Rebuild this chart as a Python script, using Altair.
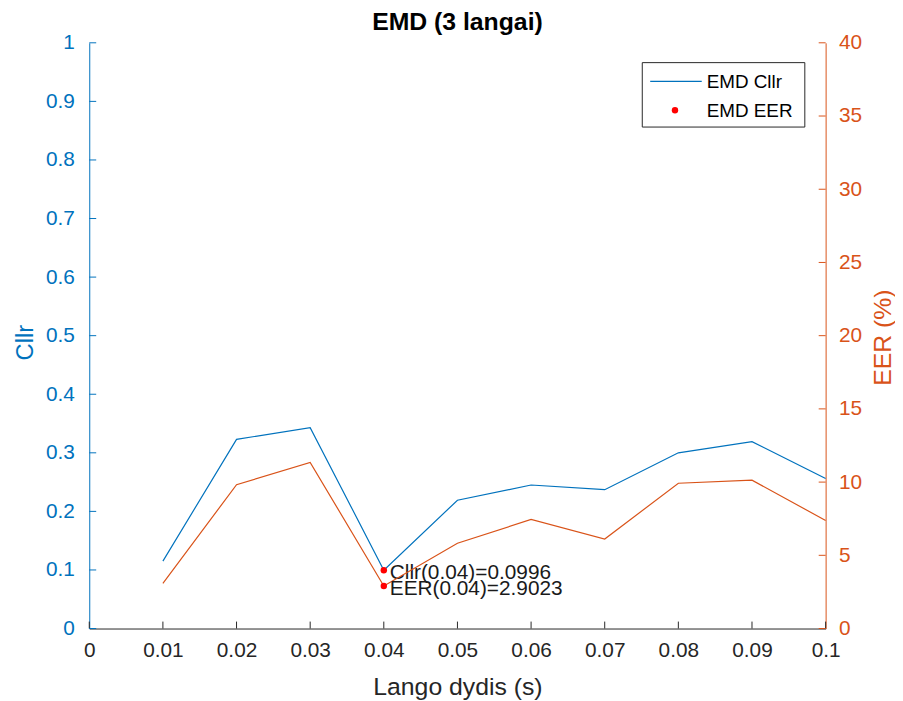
import altair as alt
import pandas as pd

# ---------------- data ----------------
window_sizes = [0.01, 0.02, 0.03, 0.04, 0.05, 0.06, 0.07, 0.08, 0.09, 0.10]
cllr_values = [0.115, 0.323, 0.343, 0.0996, 0.219, 0.245, 0.237, 0.300, 0.319, 0.256]
eer_values = [3.09, 9.82, 11.35, 2.9023, 5.82, 7.45, 6.11, 9.92, 10.13, 7.38]

x_tick_values = [0, 0.01, 0.02, 0.03, 0.04, 0.05, 0.06, 0.07, 0.08, 0.09, 0.1]
cllr_tick_values = [0, 0.1, 0.2, 0.3, 0.4, 0.5, 0.6, 0.7, 0.8, 0.9, 1]
eer_tick_values = [0, 5, 10, 15, 20, 25, 30, 35, 40]

best_x = 0.04
best_cllr = 0.0996
best_eer = 2.9023

legend_labels = ["EMD Cllr", "EMD EER"]
chart_title = "EMD (3 langai)"
x_title = "Lango dydis (s)"
yl_title = "Cllr"
yr_title = "EER (%)"

# ---------------- style ----------------
W, H = 743, 591
BLUE = "#0072BD"
ORANGE = "#D95319"
AX = "#262626"
FONT = "Liberation Sans"
TICK = 7
TITLE_SIZE = 25

df = pd.DataFrame({"x": window_sizes, "cllr": cllr_values, "eer": eer_values})
x_ticks_df = pd.DataFrame({"x": x_tick_values})
yl_ticks_df = pd.DataFrame({"cllr": cllr_tick_values})
yr_ticks_df = pd.DataFrame({"eer": eer_tick_values})
best_cllr_df = pd.DataFrame({"x": [best_x], "cllr": [best_cllr],
                             "label": [f"Cllr({best_x:g})={best_cllr:g}"]})
best_eer_df = pd.DataFrame({"x": [best_x], "eer": [best_eer],
                            "label": [f"EER({best_x:g})={best_eer:g}"]})

x_scale = alt.Scale(domain=[0, 0.1], nice=False, zero=False)
yl_scale = alt.Scale(domain=[0, 1], nice=False)
yr_scale = alt.Scale(domain=[0, 40], nice=False)

x_axis = alt.Axis(values=x_tick_values, format="~g", ticks=False, tickSize=0, grid=False,
                  domainColor=AX, domainWidth=1, labelColor=AX, labelFont=FONT, labelFontSize=21,
                  labelPadding=28, labelBaseline="alphabetic", labelFlush=False, labelOverlap=False,
                  title=x_title, titleFont=FONT, titleFontSize=TITLE_SIZE, titleFontWeight="normal",
                  titleColor=AX, titleY=67, titleBaseline="alphabetic", titleX=W / 2,
                  titleAlign="center")

yl_axis = alt.Axis(orient="left", values=cllr_tick_values, format="~g", ticks=False, tickSize=0,
                   grid=False, domainColor=BLUE, domainWidth=1, labelColor=BLUE, labelFont=FONT,
                   labelFontSize=21, labelPadding=15, labelOverlap=False, labelFlush=False,
                   title=yl_title, titleColor=BLUE, titleFont=FONT, titleFontSize=24,
                   titleFontWeight="normal", titleAngle=270, titleX=-57, titleY=302,
                   titleAlign="center", titleBaseline="alphabetic")

yr_axis = alt.Axis(orient="right", values=eer_tick_values, format="~g", ticks=False, tickSize=0,
                   grid=False, domainColor=ORANGE, domainWidth=1, labelColor=ORANGE, labelFont=FONT,
                   labelFontSize=21, labelPadding=13, labelOverlap=False, labelFlush=False,
                   title=yr_title, titleColor=ORANGE, titleFont=FONT, titleFontSize=TITLE_SIZE,
                   titleFontWeight="normal", titleAngle=270, titleX=65, titleY=297,
                   titleAlign="center", titleBaseline="alphabetic")

X = alt.X("x:Q", scale=x_scale, axis=x_axis)
YL = alt.Y("cllr:Q", scale=yl_scale, axis=yl_axis)
YR = alt.Y("eer:Q", scale=yr_scale, axis=yr_axis)

# x ticks (inward)
x_ticks = alt.Chart(x_ticks_df).mark_rule(color=AX, strokeWidth=1).encode(
    x=X, y=alt.value(H), y2=alt.value(H - TICK))

# ---------- left (Cllr) ----------
cllr_line = alt.Chart(df).mark_line(color=BLUE, strokeWidth=1.2).encode(x=X, y=YL)
yl_ticks = alt.Chart(yl_ticks_df).mark_rule(color=BLUE, strokeWidth=1).encode(
    y=YL, x=alt.value(0), x2=alt.value(TICK))
cllr_pt = alt.Chart(best_cllr_df).mark_circle(color="#FF0000", size=42, opacity=1).encode(x=X, y=YL)
cllr_txt = alt.Chart(best_cllr_df).mark_text(align="left", baseline="middle", dx=6, dy=3,
                                             font=FONT, fontSize=21, color="#1a1a1a").encode(
    x=X, y=YL, text="label:N")
left = alt.layer(x_ticks, cllr_line, yl_ticks, cllr_pt, cllr_txt)

# ---------- right (EER) ----------
eer_line = alt.Chart(df).mark_line(color=ORANGE, strokeWidth=1.2).encode(x=X, y=YR)
yr_ticks = alt.Chart(yr_ticks_df).mark_rule(color=ORANGE, strokeWidth=1).encode(
    y=YR, x=alt.value(W), x2=alt.value(W - TICK))
eer_pt = alt.Chart(best_eer_df).mark_circle(color="#FF0000", size=42, opacity=1).encode(x=X, y=YR)
eer_txt = alt.Chart(best_eer_df).mark_text(align="left", baseline="middle", dx=6, dy=3,
                                           font=FONT, fontSize=21, color="#1a1a1a").encode(
    x=X, y=YR, text="label:N")
right = alt.layer(eer_line, yr_ticks, eer_pt, eer_txt)

# ---------- legend box and title ----------
one = alt.Data(values=[{"a": 1}])
leg_box = alt.Chart(one).mark_rect(fill="white", stroke=AX, strokeWidth=1).encode(
    x=alt.value(558), x2=alt.value(722), y=alt.value(20), y2=alt.value(85))
leg_line = alt.Chart(one).mark_rule(color=BLUE, strokeWidth=1.2).encode(
    x=alt.value(566), x2=alt.value(618), y=alt.value(39))
leg_dot = alt.Chart(one).mark_circle(color="#FF0000", size=42, opacity=1).encode(
    x=alt.value(591), y=alt.value(68))
leg_t1 = alt.Chart(one).mark_text(align="left", baseline="middle", dy=1, font=FONT, fontSize=19,
                                  color="#000000", text=legend_labels[0]).encode(
    x=alt.value(623), y=alt.value(39))
leg_t2 = alt.Chart(one).mark_text(align="left", baseline="middle", dy=1, font=FONT, fontSize=19,
                                  color="#000000", text=legend_labels[1]).encode(
    x=alt.value(623), y=alt.value(68))
title_txt = alt.Chart(one).mark_text(align="center", baseline="alphabetic", font=FONT,
                                     fontSize=TITLE_SIZE, fontWeight="bold", color="#000000",
                                     text=chart_title).encode(
    x=alt.value(W / 2), y=alt.value(-13))
legend = alt.layer(leg_box, leg_line, leg_dot, leg_t1, leg_t2, title_txt)

chart = alt.layer(left, right, legend).resolve_scale(y="independent").properties(
    width=W, height=H,
    autosize=alt.AutoSizeParams(type="none"),
    padding={"left": 82, "top": 32, "right": 70, "bottom": 70},
).configure_view(stroke=None)

chart.save("out.html", embed_options={"renderer": "svg", "actions": False})
